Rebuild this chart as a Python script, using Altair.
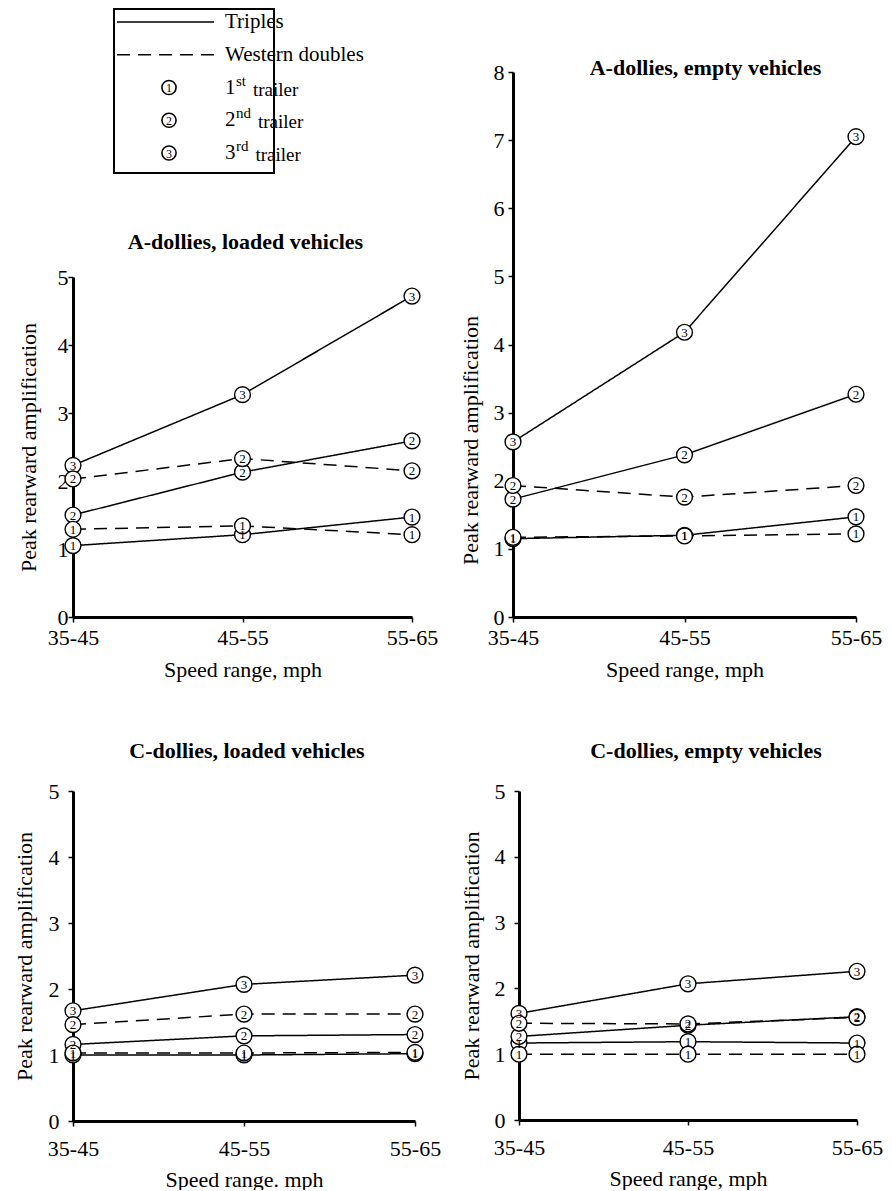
import altair as alt
import pandas as pd

FONT = "Liberation Serif"
speeds = ["35-45", "45-55", "55-65"]

# A-dollies, loaded vehicles
a_loaded_triples_1 = [1.05, 1.21, 1.47]
a_loaded_triples_2 = [1.50, 2.13, 2.59]
a_loaded_triples_3 = [2.23, 3.27, 4.72]
a_loaded_western_1 = [1.29, 1.34, 1.21]
a_loaded_western_2 = [2.03, 2.33, 2.15]

# A-dollies, empty vehicles
a_empty_triples_1 = [1.15, 1.20, 1.47]
a_empty_triples_2 = [1.73, 2.38, 3.27]
a_empty_triples_3 = [2.57, 4.18, 7.05]
a_empty_western_1 = [1.17, 1.19, 1.22]
a_empty_western_2 = [1.93, 1.76, 1.93]

# C-dollies, loaded vehicles
c_loaded_triples_1 = [1.00, 1.00, 1.02]
c_loaded_triples_2 = [1.16, 1.29, 1.31]
c_loaded_triples_3 = [1.67, 2.07, 2.21]
c_loaded_western_1 = [1.03, 1.03, 1.04]
c_loaded_western_2 = [1.46, 1.62, 1.62]

# C-dollies, empty vehicles
c_empty_triples_1 = [1.17, 1.19, 1.17]
c_empty_triples_2 = [1.27, 1.44, 1.57]
c_empty_triples_3 = [1.62, 2.07, 2.26]
c_empty_western_1 = [1.00, 1.00, 1.00]
c_empty_western_2 = [1.47, 1.46, 1.56]

configs = ["Triples", "Western doubles"]

# legend entries
legend_items = ["Triples", "Western doubles", "1", "2", "3"]
legend_sups = ["", "", "st", "nd", "rd"]


def panel_frame(t1, t2, t3, w1, w2):
    rows = []
    for cfg, tr, vals in [("Triples", "1", t1), ("Triples", "2", t2), ("Triples", "3", t3),
                          ("Western doubles", "1", w1), ("Western doubles", "2", w2)]:
        for s, v in zip(speeds, vals):
            rows.append({"config": cfg, "trailer": tr, "series": cfg + "-" + tr,
                         "speed": s, "value": v})
    return pd.DataFrame(rows)


def panel(df, title, ymax, w, h, xtitle, ylab_pad, ytitle_pad, xlab_pad, xtitle_pad,
          title_dx, title_offset, ytitle_y=None):
    xaxis = alt.Axis(title=xtitle, labelAngle=0, labelPadding=xlab_pad, titlePadding=xtitle_pad)
    yaxis_kw = dict(title="Peak rearward amplification", values=list(range(ymax + 1)), format="d",
                    labelPadding=ylab_pad, titlePadding=ytitle_pad)
    if ytitle_y is not None:
        yaxis_kw["titleY"] = ytitle_y
    x = alt.X("speed:O", sort=speeds,
              scale=alt.Scale(type="point", domain=speeds, padding=0), axis=xaxis)
    y = alt.Y("value:Q", scale=alt.Scale(domain=[0, ymax], nice=False), axis=alt.Axis(**yaxis_kw))
    base = alt.Chart(df).encode(x=x, y=y)
    lines = base.mark_line(color="black", strokeWidth=1.5).encode(
        detail="series:N",
        strokeDash=alt.StrokeDash("config:N",
                                  scale=alt.Scale(domain=configs, range=[[1, 0], [13, 8]]),
                                  legend=None))
    pts = base.mark_circle(fill="white", stroke="black", strokeWidth=1.4, size=250, opacity=1)
    txt = base.mark_text(font=FONT, fontSize=13, color="black", baseline="middle", dy=0.5).encode(
        text="trailer:N")
    tp = alt.TitleParams(text=title, font=FONT, fontSize=22, fontWeight="bold", color="black",
                         anchor="middle", dx=title_dx, offset=title_offset, frame="group")
    return alt.layer(lines, pts, txt).properties(width=w, height=h, title=tp)


# ---------- legend (box sits above the row origin so the row lines up with panel 2) ----------
sup_width = {"": 0, "st": 10, "nd": 15, "rd": 12.5}
leg = pd.DataFrame({
    "item": legend_items,
    "sup": legend_sups,
    "config": ["Triples", "Western doubles", "", "", ""],
    "kind": ["line", "line", "marker", "marker", "marker"],
})
leg["trailer_word"] = ["" if k == "line" else "trailer" for k in leg["kind"]]
leg["tx"] = [165 + sup_width[s] + 5 for s in leg["sup"]]

yleg = alt.Y("item:N",
             scale=alt.Scale(type="point", domain=legend_items, range=[-50, 81], padding=0),
             axis=None)
leg_base = alt.Chart(leg).encode(y=yleg)

box = alt.Chart(pd.DataFrame({"k": [0]})).mark_rect(
    fill="white", fillOpacity=0, stroke="black", strokeWidth=2).encode(
    x=alt.value(41), x2=alt.value(201), y=alt.value(-63), y2=alt.value(101))
leg_lines = leg_base.transform_filter(alt.datum.kind == "line").mark_rule(
    color="black", strokeWidth=1.6).encode(
    x=alt.value(44), x2=alt.value(141),
    strokeDash=alt.StrokeDash("config:N", scale=alt.Scale(domain=configs, range=[[1, 0], [13, 8]]),
                              legend=None))
leg_circ = leg_base.transform_filter(alt.datum.kind == "marker").mark_circle(
    fill="white", stroke="black", strokeWidth=1.6, size=200, opacity=1).encode(x=alt.value(96))
leg_num = leg_base.transform_filter(alt.datum.kind == "marker").mark_text(
    font=FONT, fontSize=12, color="black", baseline="middle", dy=0.5).encode(
    x=alt.value(96), text="item:N")
leg_label = leg_base.mark_text(font=FONT, fontSize=21, color="black", align="left",
                               baseline="middle").encode(x=alt.value(152), text="item:N")
leg_sup = leg_base.transform_filter(alt.datum.kind == "marker").mark_text(
    font=FONT, fontSize=15, color="black", align="left", baseline="middle", dy=-7).encode(
    x=alt.value(163), text="sup:N")
leg_word = leg_base.transform_filter(alt.datum.kind == "marker").mark_text(
    font=FONT, fontSize=19, color="black", align="left", baseline="middle", dy=2).encode(
    x=alt.X("tx:Q", scale=None), text="trailer_word:N")

legend = alt.layer(box, leg_lines, leg_circ, leg_num, leg_label, leg_sup, leg_word).properties(
    width=203, height=101)

# ---------- panels ----------
p1 = panel(panel_frame(a_loaded_triples_1, a_loaded_triples_2, a_loaded_triples_3,
                       a_loaded_western_1, a_loaded_western_2),
           "A-dollies, loaded vehicles", 5, 339, 340, "Speed range, mph",
           ylab_pad=0, ytitle_pad=17, xlab_pad=5, xtitle_pad=11, title_dx=3, title_offset=12)
p2 = panel(panel_frame(a_empty_triples_1, a_empty_triples_2, a_empty_triples_3,
                       a_empty_western_1, a_empty_western_2),
           "A-dollies, empty vehicles", 8, 343, 545, "Speed range, mph",
           ylab_pad=4, ytitle_pad=11, xlab_pad=5, xtitle_pad=11, title_dx=21, title_offset=-19,
           ytitle_y=368)
p3 = panel(panel_frame(c_loaded_triples_1, c_loaded_triples_2, c_loaded_triples_3,
                       c_loaded_western_1, c_loaded_western_2),
           "C-dollies, loaded vehicles", 5, 342, 330, "Speed range. mph",
           ylab_pad=9, ytitle_pad=12, xlab_pad=12, xtitle_pad=10, title_dx=3, title_offset=17)
p4 = panel(panel_frame(c_empty_triples_1, c_empty_triples_2, c_empty_triples_3,
                       c_empty_western_1, c_empty_western_2),
           "C-dollies, empty vehicles", 5, 338, 329, "Speed range, mph",
           ylab_pad=9, ytitle_pad=11, xlab_pad=12, xtitle_pad=10, title_dx=18, title_offset=17)

left_col = alt.vconcat(legend, p1, spacing=57)
top_row = alt.hconcat(left_col, p2, spacing=21)
bottom_row = alt.hconcat(p3, p4, spacing=19)

chart = alt.vconcat(top_row, bottom_row, spacing=60).properties(
    padding={"left": 5, "top": 0, "right": 0, "bottom": 0},
    background="white"
).configure_axis(
    domainColor="black", domainWidth=3, tickColor="black", tickWidth=1.5, tickSize=5,
    labelFont=FONT, labelFontSize=22, labelColor="black",
    titleFont=FONT, titleFontSize=22, titleFontWeight="normal", titleColor="black",
    grid=False
).configure_view(stroke=None)

chart.save("out.html", embed_options={"renderer": "svg", "actions": False})
